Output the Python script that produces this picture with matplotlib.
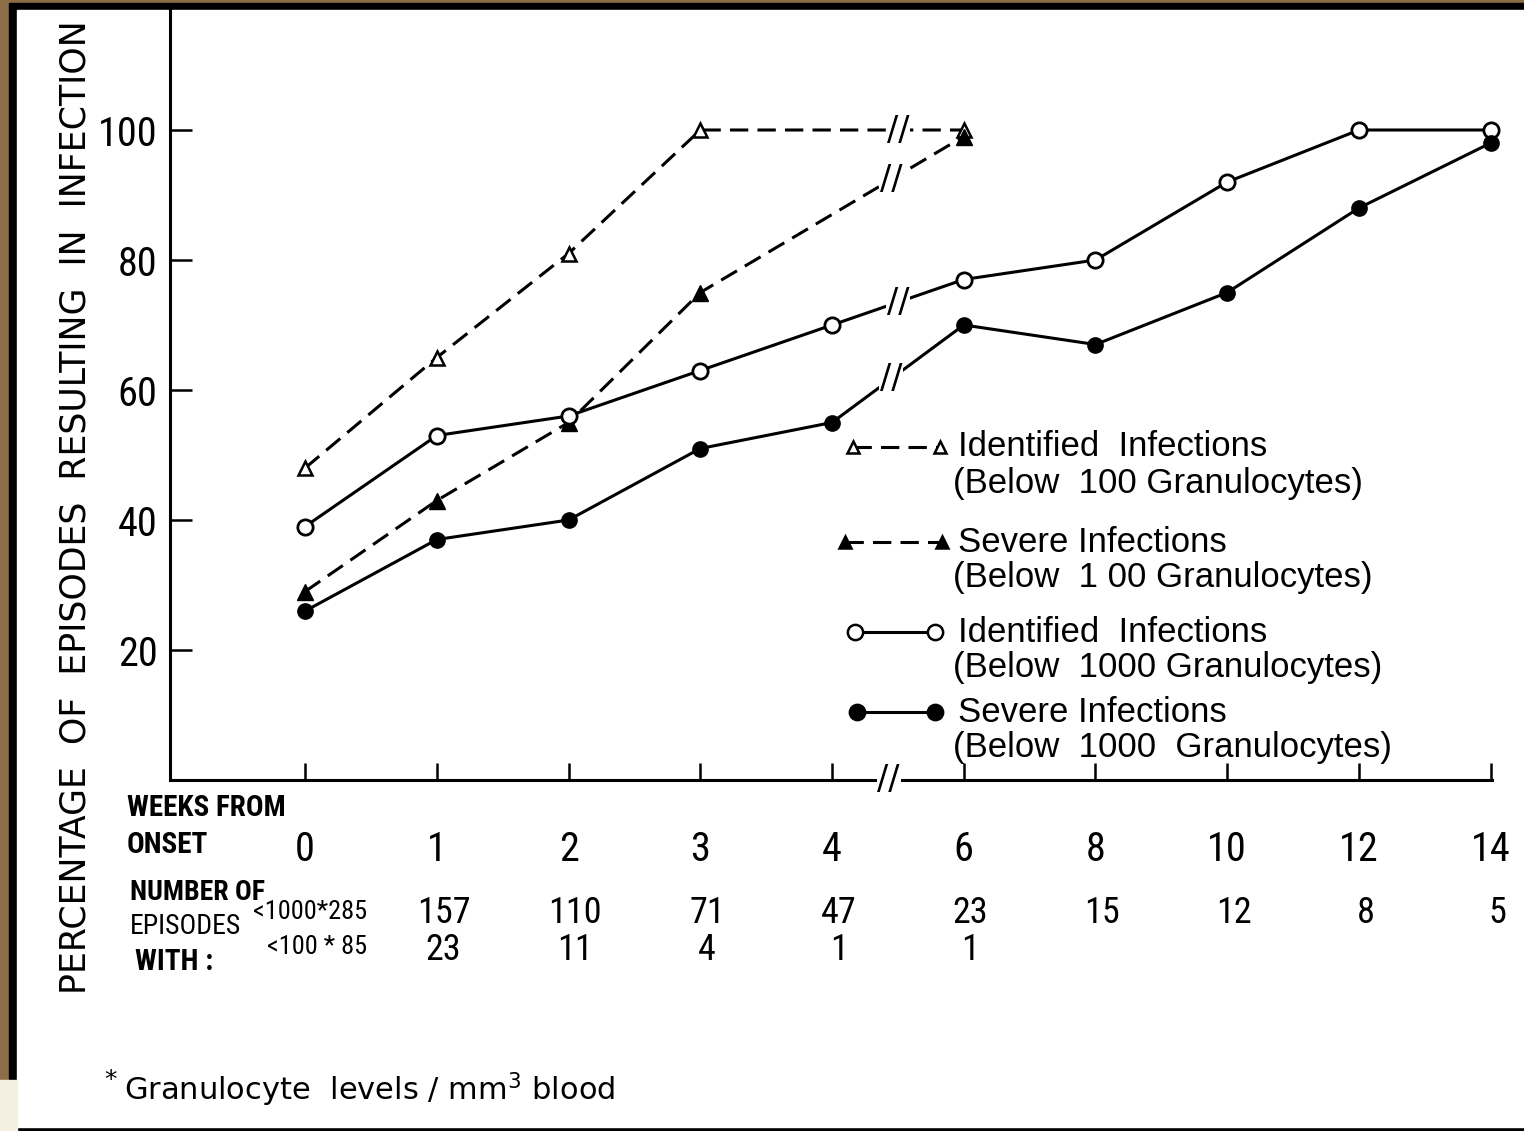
import numpy as np
import matplotlib
matplotlib.use("Agg")
import matplotlib.pyplot as plt
from matplotlib.patches import Rectangle
from matplotlib.lines import Line2D
from matplotlib.transforms import blended_transform_factory

plt.rcParams['font.family'] = ['Liberation Sans', 'DejaVu Sans']
NARROW = ['Roboto Condensed', 'DejaVu Sans Condensed', 'Liberation Sans']

W, H = 1524, 1131

# weeks from onset (x axis categories)
weeks = [0, 1, 2, 3, 4, 6, 8, 10, 12, 14]

# below 100 granulocytes (weeks 0,1,2,3,6)
weeks_100 = [0, 1, 2, 3, 6]
identified_100 = [48, 65, 81, 100, 100]
severe_100 = [29, 43, 55, 75, 99]

# below 1000 granulocytes (all weeks)
identified_1000 = [39, 53, 56, 63, 70, 77, 80, 92, 100, 100]
severe_1000 = [26, 37, 40, 51, 55, 70, 67, 75, 88, 98]

# number of episodes
episodes_1000 = [285, 157, 110, 71, 47, 23, 15, 12, 8, 5]
episodes_100 = [85, 23, 11, 4, 1, 1]

yticks = [20, 40, 60, 80, 100]

x_all = np.arange(len(weeks))
x_100 = np.array([weeks.index(w) for w in weeks_100])

fig = plt.figure(figsize=(W / 100, H / 100), dpi=100)
fig.patch.set_facecolor('#8d6d45')


def px_rect(x0, y0, x1, y1, color):
    fig.patches.append(Rectangle((x0 / W, 1 - y1 / H), (x1 - x0) / W, (y1 - y0) / H,
                                 transform=fig.transFigure, color=color, zorder=-10))


def ftext(x, y, s, **kw):
    return fig.text(x / W, 1 - y / H, s, **kw)


px_rect(9, 3, W, H, 'black')
px_rect(17, 10, W, 1127, 'white')
px_rect(0, 1080, 17, H, '#f3efe1')

ax = fig.add_axes([170 / W, (H - 780) / H, (1492 - 170) / W, (780 - 10) / H])
ax.set_facecolor('none')
step = 131.6
ax.set_xlim(-135 / step, 9.01)
ax.set_ylim(0, 770 / 6.5)

for s in ['top', 'right']:
    ax.spines[s].set_visible(False)
for s in ['left', 'bottom']:
    ax.spines[s].set_linewidth(2.2)

ax.set_yticks(yticks)
ax.set_yticklabels([str(v) for v in yticks], family=NARROW)
ax.set_xticks(x_all)
ax.set_xticklabels([str(w) for w in weeks], family=NARROW)
ax.tick_params(axis='y', direction='in', length=16, width=1.8, pad=9, labelsize=29)
ax.tick_params(axis='x', direction='in', length=12, width=1.8, pad=36, labelsize=29)

lw = 2.2
dash = (0, (6, 3))
ax.plot(x_100, identified_100, color='black', lw=lw, ls=dash, marker='^', ms=10,
        mfc='white', mec='black', mew=1.8, clip_on=False)
ax.plot(x_100, severe_100, color='black', lw=lw, ls=dash, marker='^', ms=11,
        mfc='black', mec='black', clip_on=False)
ax.plot(x_all, identified_1000, color='black', lw=lw, marker='o', ms=11,
        mfc='white', mec='black', mew=2, clip_on=False)
ax.plot(x_all, severe_1000, color='black', lw=lw, marker='o', ms=11,
        mfc='black', mec='black', clip_on=False)

# break marks between week 4 and week 6
brk = dict(ha='center', va='center', fontsize=24, family='DejaVu Sans',
           bbox=dict(facecolor='white', edgecolor='none', pad=0.5))
for xs, ys, xb in [(x_100, identified_100, 4.5), (x_100, severe_100, 4.45),
                   (x_all, identified_1000, 4.5), (x_all, severe_1000, 4.45)]:
    ax.text(xb, np.interp(xb, xs, ys), '//', **brk)
ax.text(4.43, 0, '//', clip_on=False, **brk)

# y label
ftext(76, 507, 'PERCENTAGE  OF  EPISODES  RESULTING  IN  INFECTION', rotation=90,
      ha='center', va='center', fontsize=25, family='DejaVu Sans')

# table below the axis
ftext(127, 808, 'WEEKS FROM', fontsize=21, fontweight='bold', va='center', family=NARROW)
ftext(127, 845, 'ONSET', fontsize=21, fontweight='bold', va='center', family=NARROW)
ftext(130, 893, 'NUMBER OF', fontsize=20, fontweight='bold', va='center', family=NARROW)
ftext(130, 927, 'EPISODES', fontsize=20, va='center', family=NARROW)
ftext(135, 962, 'WITH :', fontsize=21, fontweight='bold', va='center', family=NARROW)

tr = blended_transform_factory(ax.transData, fig.transFigure)
ftext(367, 912, '<1000*%d' % episodes_1000[0], fontsize=19, ha='right', va='center',
      family=NARROW)
ftext(367, 947, '<100 * %d' % episodes_100[0], fontsize=19, ha='right', va='center',
      family=NARROW)
for i, n in enumerate(episodes_1000[1:], start=1):
    ax.text(i + 0.05, 1 - 913 / H, str(n), transform=tr, ha='center', va='center',
            fontsize=26, family=NARROW)
for i, n in enumerate(episodes_100[1:], start=1):
    ax.text(i + 0.05, 1 - 950 / H, str(n), transform=tr, ha='center', va='center',
            fontsize=26, family=NARROW)

# legend
leg = [
    ('^', 'white', dash, 853, 940, 447, 'Identified  Infections', '(Below  100 Granulocytes)'),
    ('^', 'black', dash, 845, 942, 542, 'Severe Infections', '(Below  1 00 Granulocytes)'),
    ('o', 'white', '-', 855, 935, 632, 'Identified  Infections', '(Below  1000 Granulocytes)'),
    ('o', 'black', '-', 857, 935, 712, 'Severe Infections', '(Below  1000  Granulocytes)'),
]
for m, fc, ls, x0, x1, y, l1, l2 in leg:
    fig.add_artist(Line2D([x0 / W, x1 / W], [1 - y / H] * 2, transform=fig.transFigure,
                          color='black', lw=lw, ls=ls, marker=m, ms=11 if m == 'o' else 9,
                          mfc=fc, mec='black', mew=1.8))
    ftext(958, y, l1, fontsize=25, va='center')
    ftext(953, y + 36, l2, fontsize=25, va='center')

# footnote
ftext(104, 1080, '*', fontsize=18, va='center', family='DejaVu Sans')
ftext(124, 1090, 'Granulocyte  levels / mm$^{3}$ blood', fontsize=22, va='center',
      family='DejaVu Sans')

fig.savefig('out.png', dpi=100, facecolor=fig.get_facecolor())
